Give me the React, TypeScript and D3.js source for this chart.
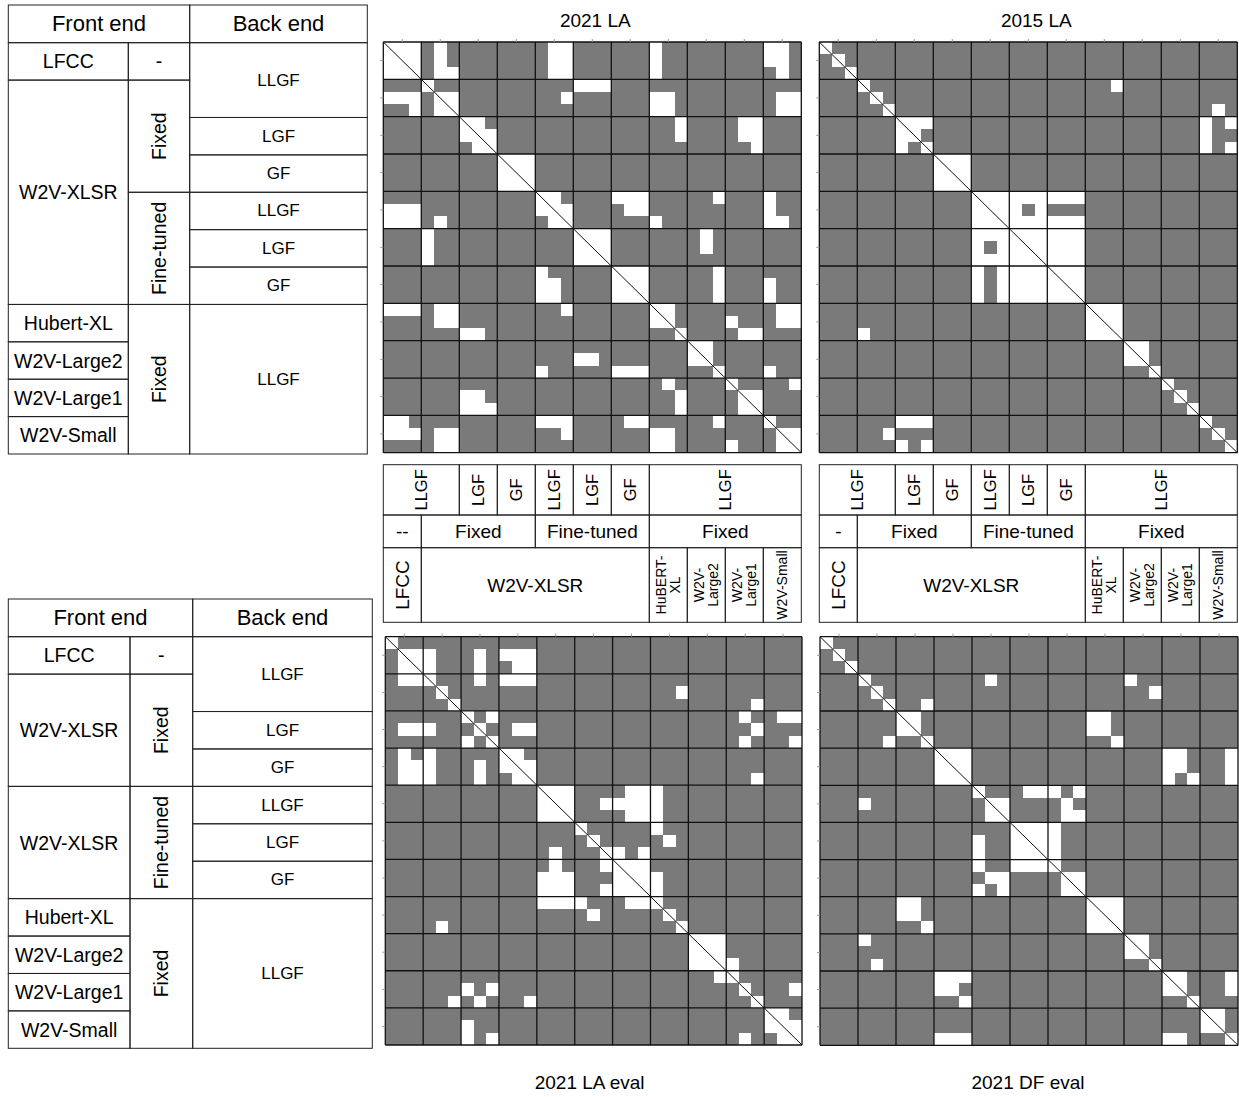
import React from "react";
import * as d3 from "d3";

// 33 systems x 33 systems, grouped in 11 blocks of 3 (1 = white cell, 0 = gray cell)
const la2021 = [
  "111 010 000 000 011 000 000 100 000 000 110",
  "111 010 000 000 011 000 000 100 000 000 110",
  "111 011 000 000 011 000 000 100 000 000 010",
  "000 100 000 000 000 111 000 000 000 000 000",
  "111 011 000 000 001 000 000 110 000 000 011",
  "001 011 000 000 000 000 000 110 000 000 011",
  "000 000 110 000 000 000 000 001 000 011 000",
  "000 000 111 000 000 000 000 001 000 011 000",
  "000 000 011 000 000 000 000 000 000 001 000",
  "000 000 000 111 000 000 000 000 000 000 000",
  "000 000 000 111 000 000 000 000 000 000 000",
  "000 000 000 111 000 000 000 000 000 000 000",
  "000 000 000 000 110 000 111 000 001 000 100",
  "111 000 000 000 111 000 011 000 000 000 100",
  "111 010 000 000 011 000 000 100 000 000 110",
  "000 100 000 000 000 111 000 000 010 000 000",
  "000 100 000 000 000 111 000 000 010 000 000",
  "000 100 000 000 000 111 000 000 000 000 000",
  "000 000 000 000 100 000 111 000 001 000 000",
  "000 000 000 000 110 000 111 000 001 000 100",
  "000 000 000 000 110 000 111 000 001 000 100",
  "111 011 000 000 001 000 000 110 000 000 011",
  "000 011 000 000 000 000 000 110 000 100 011",
  "000 000 110 000 000 000 000 001 000 011 000",
  "000 000 000 000 000 000 000 000 110 000 000",
  "000 000 000 000 000 110 000 000 110 000 000",
  "000 000 000 000 100 000 111 000 001 000 100",
  "000 000 000 000 000 000 000 010 000 100 001",
  "000 000 110 000 000 000 000 001 000 011 000",
  "000 000 111 000 000 000 000 001 000 011 000",
  "110 000 000 000 111 000 011 000 001 000 100",
  "111 011 000 000 001 000 000 110 000 000 011",
  "000 011 000 000 000 000 000 110 000 100 011",
];

const la2015 = [
  "100 000 000 000 000 000 000 000 000 000 000",
  "010 000 000 000 000 000 000 000 000 000 000",
  "001 000 000 000 000 000 000 000 000 000 000",
  "000 100 000 000 000 000 000 001 000 000 000",
  "000 010 000 000 000 000 000 000 000 000 000",
  "000 001 000 000 000 000 000 000 000 000 010",
  "000 000 111 000 000 000 000 000 000 000 101",
  "000 000 110 000 000 000 000 000 000 000 100",
  "000 000 101 000 000 000 000 000 000 000 101",
  "000 000 000 111 000 000 000 000 000 000 000",
  "000 000 000 111 000 000 000 000 000 000 000",
  "000 000 000 111 000 000 000 000 000 000 000",
  "000 000 000 000 111 111 111 000 000 000 000",
  "000 000 000 000 111 101 000 000 000 000 000",
  "000 000 000 000 111 111 111 000 000 000 000",
  "000 000 000 000 111 111 111 000 000 000 000",
  "000 000 000 000 101 111 111 000 000 000 000",
  "000 000 000 000 111 111 111 000 000 000 000",
  "000 000 000 000 101 111 111 000 000 000 000",
  "000 000 000 000 101 111 111 000 000 000 000",
  "000 000 000 000 101 111 111 000 000 000 000",
  "000 000 000 000 000 000 000 111 000 000 000",
  "000 000 000 000 000 000 000 111 000 000 000",
  "000 100 000 000 000 000 000 111 000 000 000",
  "000 000 000 000 000 000 000 000 110 000 000",
  "000 000 000 000 000 000 000 000 110 000 000",
  "000 000 000 000 000 000 000 000 001 000 000",
  "000 000 000 000 000 000 000 000 000 100 000",
  "000 000 000 000 000 000 000 000 000 010 000",
  "000 000 000 000 000 000 000 000 000 001 000",
  "000 000 111 000 000 000 000 000 000 000 100",
  "000 001 000 000 000 000 000 000 000 000 010",
  "000 000 101 000 000 000 000 000 000 000 001",
];

const laEval2021 = [
  "100 000 000 000 000 000 000 000 000 000 000",
  "011 100 010 111 000 000 000 000 000 000 000",
  "011 100 010 011 000 000 000 000 000 000 000",
  "011 100 010 111 000 000 000 000 000 000 000",
  "000 010 000 000 000 000 000 001 000 000 000",
  "000 001 000 000 000 000 000 000 000 001 000",
  "000 000 101 000 000 000 000 000 000 010 011",
  "011 100 010 011 000 000 000 000 000 001 000",
  "000 000 101 000 000 000 000 000 000 010 001",
  "010 100 000 110 000 000 000 000 000 000 000",
  "011 100 010 111 000 000 000 000 000 000 000",
  "011 100 010 011 000 000 000 000 000 001 000",
  "000 000 000 000 111 000 011 100 000 000 000",
  "000 000 000 000 111 001 111 100 000 000 000",
  "000 000 000 000 111 000 011 100 000 000 000",
  "000 000 000 000 000 100 000 100 000 000 000",
  "000 000 000 000 000 010 000 010 000 000 000",
  "000 000 000 000 010 001 101 000 000 000 000",
  "000 000 000 000 010 001 111 000 000 000 000",
  "000 000 000 000 111 000 111 100 000 000 000",
  "000 000 000 000 111 001 111 100 000 000 000",
  "000 000 000 000 111 100 011 100 000 000 000",
  "000 000 000 000 000 010 000 010 000 000 000",
  "000 010 000 000 000 000 000 001 000 000 000",
  "000 000 000 000 000 000 000 000 111 000 000",
  "000 000 000 000 000 000 000 000 111 000 000",
  "000 000 000 000 000 000 000 000 111 100 000",
  "000 000 000 000 000 000 000 000 001 100 000",
  "000 000 101 000 000 000 000 000 000 010 001",
  "000 001 010 001 000 000 000 000 000 001 000",
  "000 000 000 000 000 000 000 000 000 000 110",
  "000 000 100 000 000 000 000 000 000 000 111",
  "000 000 101 000 000 000 000 000 000 010 011",
];

const dfEval2021 = [
  "100 000 000 000 000 000 000 000 000 000 000",
  "010 000 000 000 000 000 000 000 000 000 000",
  "001 000 000 000 000 000 000 000 000 000 000",
  "000 100 000 000 010 000 000 000 100 000 000",
  "000 010 000 000 000 000 000 000 001 000 000",
  "000 001 001 000 000 000 000 000 000 000 000",
  "000 000 110 000 000 000 000 110 000 000 000",
  "000 000 110 000 000 000 000 110 000 000 000",
  "000 001 001 000 000 000 000 001 000 000 000",
  "000 000 000 111 000 000 000 000 000 110 001",
  "000 000 000 111 000 000 000 000 000 110 001",
  "000 000 000 111 000 000 000 000 000 101 001",
  "000 000 000 000 100 011 101 000 000 000 000",
  "000 100 000 000 011 000 010 000 000 000 000",
  "000 000 000 000 011 000 011 000 000 000 000",
  "000 000 000 000 000 111 100 000 000 000 000",
  "000 000 000 000 100 111 100 000 000 000 000",
  "000 000 000 000 100 111 100 000 000 000 000",
  "000 000 000 000 100 111 100 000 000 000 000",
  "000 000 000 000 011 000 011 000 000 000 000",
  "000 000 000 000 101 000 011 000 000 000 000",
  "000 000 110 000 000 000 000 111 000 000 000",
  "000 000 110 000 000 000 000 111 000 000 000",
  "000 000 001 000 000 000 000 111 000 000 000",
  "000 100 000 000 000 000 000 000 110 000 000",
  "000 000 000 000 000 000 000 000 110 000 000",
  "000 010 000 000 000 000 000 000 001 000 000",
  "000 000 000 111 000 000 000 000 000 110 001",
  "000 000 000 110 000 000 000 000 000 110 001",
  "000 000 000 001 000 000 000 000 000 001 000",
  "000 000 000 000 000 000 000 000 000 000 110",
  "000 000 000 000 000 000 000 000 000 000 110",
  "000 000 000 111 000 000 000 000 000 110 001",
];

// row label tables: [startBlock, endBlock, text]
const frontEndTop = [[0, 1, "LFCC"], [1, 7, "W2V-XLSR"], [7, 8, "Hubert-XL"], [8, 9, "W2V-Large2"], [9, 10, "W2V-Large1"], [10, 11, "W2V-Small"]];
const frontEndBottom = [[0, 1, "LFCC"], [1, 4, "W2V-XLSR"], [4, 7, "W2V-XLSR"], [7, 8, "Hubert-XL"], [8, 9, "W2V-Large2"], [9, 10, "W2V-Large1"], [10, 11, "W2V-Small"]];
const tuning = [[0, 1, "-"], [1, 4, "Fixed"], [4, 7, "Fine-tuned"], [7, 11, "Fixed"]];
const backEnds = [[0, 2, "LLGF"], [2, 3, "LGF"], [3, 4, "GF"], [4, 5, "LLGF"], [5, 6, "LGF"], [6, 7, "GF"], [7, 11, "LLGF"]];
const smallModels = [[7, 8, ["HuBERT-", "XL"]], [8, 9, ["W2V-", "Large2"]], [9, 10, ["W2V-", "Large1"]], [10, 11, ["W2V-Small"]]];

const N = 33;
const BLOCKS = 11;
const GRAY = "#7a7a7a";
const LINE = "#222";
const FONT = "'Liberation Sans', Arial, Helvetica, sans-serif";

const parse = (rows) => rows.map((r) => r.replace(/ /g, "").split("").map(Number));

const Matrix = ({ data, x0, x1, y0, y1 }) => {
  const grid = parse(data);
  const x = d3.scaleBand().domain(d3.range(N)).range([x0, x1]);
  const y = d3.scaleBand().domain(d3.range(N)).range([y0, y1]);
  const bx = d3.scaleLinear().domain([0, BLOCKS]).range([x0, x1]);
  const by = d3.scaleLinear().domain([0, BLOCKS]).range([y0, y1]);
  const cells = grid.flatMap((row, i) => row.map((v, j) => ({ i, j, v }))).filter((c) => c.v === 1);
  const blocks = d3.range(BLOCKS + 1);
  const mids = d3.range(BLOCKS).map((k) => k + 0.5);
  return (
    <g>
      <rect x={x0} y={y0} width={x1 - x0} height={y1 - y0} fill={GRAY} />
      <g shapeRendering="crispEdges">
        {cells.map((c) => (
          <rect
            key={c.i + "-" + c.j}
            x={Math.round(x(c.j))}
            y={Math.round(y(c.i))}
            width={Math.round(x(c.j) + x.bandwidth()) - Math.round(x(c.j))}
            height={Math.round(y(c.i) + y.bandwidth()) - Math.round(y(c.i))}
            fill="#fff"
          />
        ))}
      </g>
      {blocks.map((k) => (
        <g key={k}>
          <line x1={bx(k)} x2={bx(k)} y1={y0} y2={y1} stroke="#111" strokeWidth={1.3} />
          <line x1={x0} x2={x1} y1={by(k)} y2={by(k)} stroke="#111" strokeWidth={1.3} />
        </g>
      ))}
      <line x1={x0} y1={y0} x2={x1} y2={y1} stroke="#111" strokeWidth={1} />
      {mids.map((k) => (
        <g key={"t" + k}>
          <line x1={bx(k)} x2={bx(k)} y1={y0 - 3} y2={y0} stroke="#999" strokeWidth={1} />
          <line x1={x0 - 3} x2={x0} y1={by(k)} y2={by(k)} stroke="#999" strokeWidth={1} />
        </g>
      ))}
    </g>
  );
};

const Cell = ({ x0, x1, y0, y1, text, size, rotate = false }) => {
  const cx = (x0 + x1) / 2;
  const cy = (y0 + y1) / 2;
  return (
    <g>
      <rect x={x0} y={y0} width={x1 - x0} height={y1 - y0} fill="none" stroke={LINE} strokeWidth={1} />
      <text
        x={cx}
        y={cy}
        fontSize={size}
        textAnchor="middle"
        dominantBaseline="central"
        transform={rotate ? `rotate(-90,${cx},${cy})` : undefined}
      >
        {text}
      </text>
    </g>
  );
};

const RowTable = ({ cols, header, rows, front }) => {
  const ry = d3.scaleLinear().domain([0, BLOCKS]).range(rows);
  return (
    <g>
      <Cell x0={cols[0]} x1={cols[2]} y0={header[0]} y1={header[1]} text="Front end" size={22} />
      <Cell x0={cols[2]} x1={cols[3]} y0={header[0]} y1={header[1]} text="Back end" size={22} />
      {front.map(([a, b, t], k) => (
        <Cell key={"f" + k} x0={cols[0]} x1={cols[1]} y0={ry(a)} y1={ry(b)} text={t} size={19.5} />
      ))}
      {tuning.map(([a, b, t], k) => (
        <Cell key={"m" + k} x0={cols[1]} x1={cols[2]} y0={ry(a)} y1={ry(b)} text={t} size={19.5} rotate={k > 0} />
      ))}
      {backEnds.map(([a, b, t], k) => (
        <Cell key={"b" + k} x0={cols[2]} x1={cols[3]} y0={ry(a)} y1={ry(b)} text={t} size={17} />
      ))}
    </g>
  );
};

const ColTable = ({ x0, x1, ys, dash }) => {
  const bx = d3.scaleLinear().domain([0, BLOCKS]).range([x0, x1]);
  const [y0, yA, yB, y1] = ys;
  const mid = tuning.map(([a, b, t], k) => [a, b, k === 0 ? dash : t]);
  return (
    <g>
      {backEnds.map(([a, b, t], k) => (
        <Cell key={"b" + k} x0={bx(a)} x1={bx(b)} y0={y0} y1={yA} text={t} size={16.5} rotate />
      ))}
      {mid.map(([a, b, t], k) => (
        <Cell key={"m" + k} x0={bx(a)} x1={bx(b)} y0={yA} y1={yB} text={t} size={19} />
      ))}
      <Cell x0={bx(0)} x1={bx(1)} y0={yB} y1={y1} text="LFCC" size={19} rotate />
      <Cell x0={bx(1)} x1={bx(7)} y0={yB} y1={y1} text="W2V-XLSR" size={19} />
      {smallModels.map(([a, b, lines], k) => {
        const cx = (bx(a) + bx(b)) / 2;
        const cy = (yB + y1) / 2;
        return (
          <g key={"s" + k}>
            <rect x={bx(a)} y={yB} width={bx(b) - bx(a)} height={y1 - yB} fill="none" stroke={LINE} strokeWidth={1} />
            <text fontSize={14} textAnchor="middle" transform={`rotate(-90,${cx},${cy})`}>
              {lines.map((l, i) => (
                <tspan key={i} x={cx} y={cy + 5 + (i - (lines.length - 1) / 2) * 14}>
                  {l}
                </tspan>
              ))}
            </text>
          </g>
        );
      })}
    </g>
  );
};

const App = () => {
  const m1 = { x0: 383.3, x1: 801.3, y0: 42, y1: 452.7 };
  const m2 = { x0: 819.3, x1: 1237.3, y0: 42, y1: 452.7 };
  const m3 = { x0: 385.3, x1: 802, y0: 636.7, y1: 1045 };
  const m4 = { x0: 820, x1: 1238, y0: 636.7, y1: 1045.3 };
  const colYs = [464.7, 515, 547.7, 622.3];
  return (
    <svg
      width={1239}
      height={1097}
      style={{ position: "absolute", left: 0, top: 0, background: "#fff" }}
      fontFamily={FONT}
    >
      <RowTable cols={[8.3, 128.3, 189.7, 367.3]} header={[5, 42.7]} rows={[42.7, 454]} front={frontEndTop} />
      <RowTable cols={[8.3, 130, 192.7, 372.3]} header={[599, 636.7]} rows={[636.7, 1048.3]} front={frontEndBottom} />

      <Matrix data={la2021} {...m1} />
      <Matrix data={la2015} {...m2} />
      <Matrix data={laEval2021} {...m3} />
      <Matrix data={dfEval2021} {...m4} />

      <ColTable x0={m1.x0} x1={m1.x1} ys={colYs} dash="--" />
      <ColTable x0={m2.x0} x1={m2.x1} ys={colYs} dash="-" />

      <text x={(m1.x0 + m1.x1) / 2 + 3} y={27} fontSize={19} textAnchor="middle">2021 LA</text>
      <text x={(m2.x0 + m2.x1) / 2 + 8} y={27} fontSize={19} textAnchor="middle">2015 LA</text>
      <text x={(m3.x0 + m3.x1) / 2 - 4} y={1089} fontSize={19} textAnchor="middle">2021 LA eval</text>
      <text x={(m4.x0 + m4.x1) / 2 - 1} y={1089} fontSize={19} textAnchor="middle">2021 DF eval</text>
    </svg>
  );
};

export default App;
